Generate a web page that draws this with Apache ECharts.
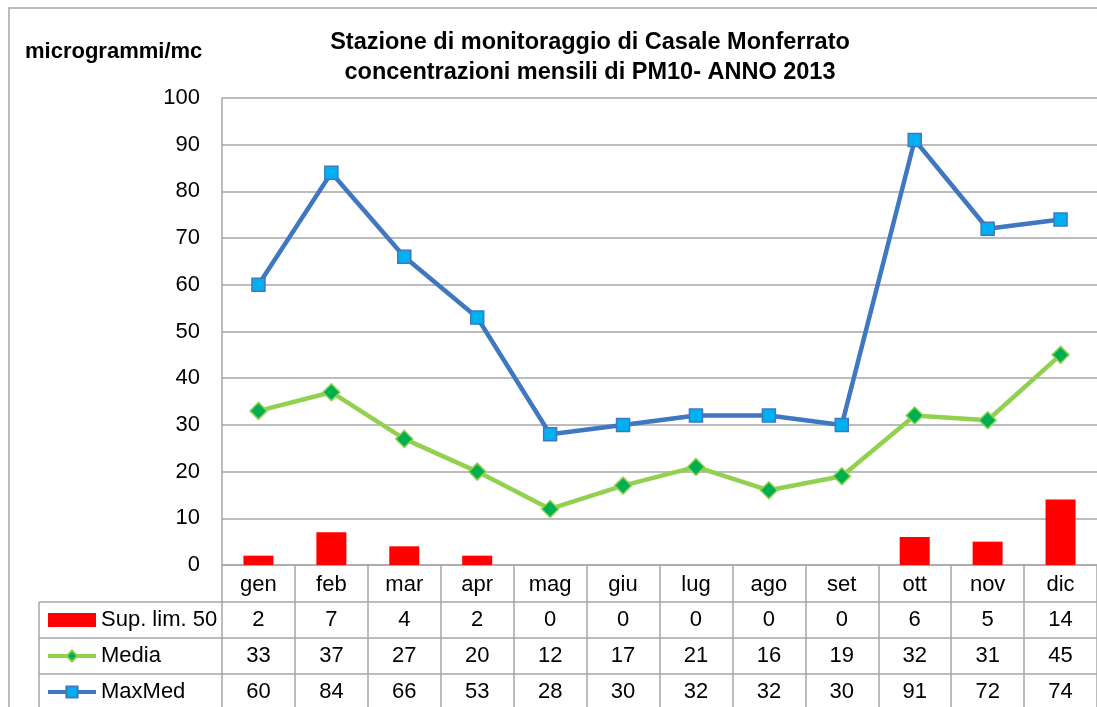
<!DOCTYPE html>
<html>
<head>
<meta charset="utf-8">
<script src="https://cdn.jsdelivr.net/npm/echarts@6/dist/echarts.min.js"></script>
<style>html,body{margin:0;padding:0;background:#fff}#c{width:1097px;height:707px}</style>
</head>
<body>
<div id="c"></div>
<script>
const months = ['gen','feb','mar','apr','mag','giu','lug','ago','set','ott','nov','dic'];
const supLim = [2,7,4,2,0,0,0,0,0,6,5,14];
const media = [33,37,27,20,12,17,21,16,19,32,31,45];
const maxMed = [60,84,66,53,28,30,32,32,30,91,72,74];
const yTicks = {min:0, max:100, interval:10};
const seriesNames = ['Sup. lim. 50','Media','MaxMed'];
const rows = [supLim, media, maxMed];

const FONT = 'Liberation Sans, Arial, sans-serif';
const GRAY = '#a6a6a6';
const chart = echarts.init(document.getElementById('c'));

function rowAxis(idx, offset){
  return {
    type:'category', data: months, gridIndex:0, position:'bottom', offset: offset,
    boundaryGap:true,
    axisLine:{show:false}, axisTick:{show:false}, splitLine:{show:false},
    axisLabel:{interval:0, margin:9, fontSize:22, fontFamily:FONT, color:'#000',
      formatter:function(v,i){ return String(rows[idx][i]); }}
  };
}

chart.setOption({
  animation:false,
  backgroundColor:'#fff',
  title:[
    {text:'Stazione di monitoraggio di Casale Monferrato\nconcentrazioni mensili di PM10- ANNO 2013',
     left:590, top:28, textAlign:'center', padding:0,
     textStyle:{fontFamily:FONT, fontSize:23.5, fontWeight:'bold', lineHeight:30, color:'#000'}},
    {text:'microgrammi/mc', left:25, top:41, padding:0,
     textStyle:{fontFamily:FONT, fontSize:22, fontWeight:'bold', lineHeight:22, color:'#000'}}
  ],
  legend:{
    orient:'vertical', left:46, top:609, padding:0,
    itemWidth:48, itemHeight:14, itemGap:14,
    textStyle:{fontFamily:FONT, fontSize:22, lineHeight:22, color:'#000'},
    data:[{name:seriesNames[0], icon:'rect'},
          {name:seriesNames[1], lineStyle:{width:4}},
          {name:seriesNames[2], lineStyle:{width:4}}]
  },
  grid:{left:222, right:-11, top:98, bottom:142, containLabel:false},
  xAxis:[
    {type:'category', data:months, boundaryGap:true,
     axisLine:{show:true, lineStyle:{color:GRAY, width:1.5}},
     axisTick:{show:true, interval:0, length:145, lineStyle:{color:GRAY, width:1.5}},
     axisLabel:{interval:0, margin:9, fontSize:22, fontFamily:FONT, color:'#000'},
     splitLine:{show:false}},
    rowAxis(0,35), rowAxis(1,71), rowAxis(2,107)
  ],
  yAxis:{
    type:'value', min:yTicks.min, max:yTicks.max, interval:yTicks.interval,
    axisLine:{show:true, lineStyle:{color:GRAY, width:1.5}},
    axisTick:{show:false},
    axisLabel:{margin:22, fontSize:22, fontFamily:FONT, color:'#000'},
    splitLine:{show:true, lineStyle:{color:GRAY, width:1.5}}
  },
  series:[
    {name:seriesNames[0], type:'bar', data:supLim, barWidth:30,
     itemStyle:{color:'#ff0000'}},
    {name:seriesNames[1], type:'line', data:media, symbol:'diamond', symbolSize:17,
     lineStyle:{color:'#92d050', width:4.5},
     itemStyle:{color:'#00b050', borderColor:'#92d050', borderWidth:1.5}, z:3},
    {name:seriesNames[2], type:'line', data:maxMed, symbol:'rect', symbolSize:13,
     lineStyle:{color:'#3f78c0', width:4.5},
     itemStyle:{color:'#00b0f0', borderColor:'#3f78c0', borderWidth:1.5}, z:4}
  ],
  graphic:[
    {type:'rect', shape:{x:9, y:8, width:1200, height:800}, style:{fill:null, stroke:GRAY, lineWidth:1.5}, silent:true},
    {type:'line', shape:{x1:39, y1:602, x2:1200, y2:602}, style:{stroke:GRAY, lineWidth:1.5}, silent:true},
    {type:'line', shape:{x1:39, y1:638, x2:1200, y2:638}, style:{stroke:GRAY, lineWidth:1.5}, silent:true},
    {type:'line', shape:{x1:39, y1:674, x2:1200, y2:674}, style:{stroke:GRAY, lineWidth:1.5}, silent:true},
    {type:'line', shape:{x1:39, y1:602, x2:39, y2:720}, style:{stroke:GRAY, lineWidth:1.5}, silent:true}
  ]
});
</script>
</body>
</html>
